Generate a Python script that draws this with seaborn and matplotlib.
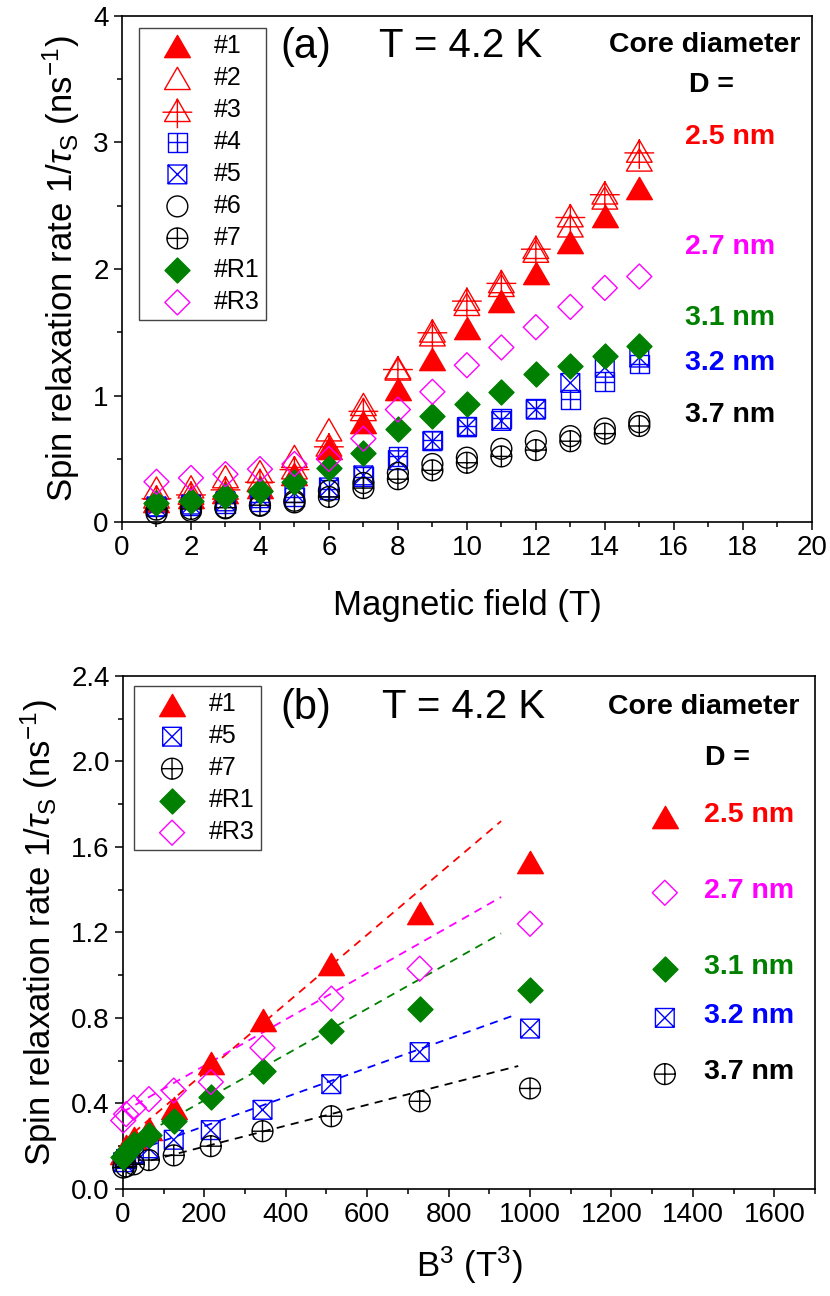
"""Spin relaxation rate vs magnetic field for CdSe-type nanocrystal samples (two panels)."""

import matplotlib
matplotlib.use("Agg")
import matplotlib.pyplot as plt
import seaborn as sns
from matplotlib.path import Path
from matplotlib.ticker import FormatStrFormatter, MultipleLocator

sns.set_theme(style="ticks")
plt.rcParams.update({
    "font.family": ["Liberation Sans", "DejaVu Sans"],
    "mathtext.fontset": "custom",
    "mathtext.rm": "Liberation Sans",
    "mathtext.it": "Liberation Sans:italic",
    "axes.edgecolor": "black",
    "axes.linewidth": 1.2,
    "xtick.color": "black",
    "ytick.color": "black",
    "text.color": "black",
    "axes.labelcolor": "black",
})

# ---- data ----
field_T = [1, 2, 3, 4, 5, 6, 7, 8, 9, 10, 11, 12, 13, 14, 15]
field_cubed = [1, 8, 27, 64, 125, 216, 343, 512, 729, 1000]

rate_1 = [0.17, 0.20, 0.24, 0.28, 0.38, 0.59, 0.79, 1.05, 1.29, 1.53, 1.75, 1.97, 2.21, 2.42, 2.64]
rate_2 = [0.27, 0.28, 0.36, 0.40, 0.52, 0.73, 0.93, 1.21, 1.48, 1.72, 1.87, 2.14, 2.34, 2.56, 2.86]
rate_3 = [0.20, 0.23, 0.27, 0.33, 0.43, 0.61, 0.89, 1.22, 1.51, 1.76, 1.90, 2.17, 2.42, 2.60, 2.93]
rate_4 = [0.12, 0.13, 0.15, 0.16, 0.20, 0.26, 0.36, 0.52, 0.65, 0.76, 0.82, 0.90, 0.97, 1.11, 1.25]
rate_5 = [0.125, 0.14, 0.165, 0.19, 0.23, 0.275, 0.37, 0.49, 0.64, 0.75, 0.80, 0.89, 1.10, 1.22, 1.30]
rate_6 = [0.07, 0.09, 0.11, 0.13, 0.17, 0.25, 0.31, 0.39, 0.46, 0.51, 0.58, 0.64, 0.68, 0.74, 0.79]
rate_7 = [0.10, 0.105, 0.115, 0.135, 0.157, 0.20, 0.27, 0.34, 0.41, 0.47, 0.52, 0.57, 0.64, 0.70, 0.76]
rate_R1 = [0.15, 0.17, 0.21, 0.25, 0.32, 0.43, 0.55, 0.74, 0.84, 0.93, 1.03, 1.17, 1.23, 1.31, 1.39]
rate_R3 = [0.32, 0.35, 0.38, 0.42, 0.46, 0.50, 0.66, 0.89, 1.03, 1.24, 1.38, 1.54, 1.70, 1.85, 1.94]

# linear fits in panel (b): rate at B^3 = 0 and at the end of the line
fit_samples = ["#1", "#R3", "#R1", "#5", "#7"]
fit_end_b3 = [929, 929, 929, 958, 971]
fit_start_rate = [0.22, 0.36, 0.20, 0.157, 0.10]
fit_end_rate = [1.72, 1.365, 1.195, 0.81, 0.575]

diameter_labels = ["2.5 nm", "2.7 nm", "3.1 nm", "3.2 nm", "3.7 nm"]
diameter_samples = ["#1", "#R3", "#R1", "#5", "#7"]

RATES = {"#1": rate_1, "#2": rate_2, "#3": rate_3, "#4": rate_4, "#5": rate_5,
         "#6": rate_6, "#7": rate_7, "#R1": rate_R1, "#R3": rate_R3}

# ---- marker shapes ----
RED, BLUE, BLACK, GREEN, MAGENTA = "#ff0000", "#0000ff", "#000000", "#008000", "#ff00ff"


def _line(p, q):
    return Path([p, q], [Path.MOVETO, Path.LINETO])


TRI = Path([(0, 0.866), (-1, -0.866), (1, -0.866), (0, 0.866)], closed=True)
TRI_CROSS = Path.make_compound_path(TRI, _line((-1.16, -0.14), (1.16, -0.14)),
                                    _line((0, 0.92), (0, -1.39)))
SQUARE = Path([(-1, -1), (1, -1), (1, 1), (-1, 1), (-1, -1)], closed=True)
SQUARE_PLUS = Path.make_compound_path(SQUARE, _line((-1, 0), (1, 0)), _line((0, -1), (0, 1)))
SQUARE_X = Path.make_compound_path(SQUARE, _line((-1, -1), (1, 1)), _line((-1, 1), (1, -1)))
CIRCLE = Path.unit_circle()
CIRCLE_PLUS = Path.make_compound_path(CIRCLE, _line((-1, 0), (1, 0)), _line((0, -1), (0, 1)))
DIAMOND = Path([(0, 1), (1, 0), (0, -1), (-1, 0), (0, 1)], closed=True)

# name -> (path, marker size in pt, colour, filled)
MARKERS = {
    "#1": (TRI, 18.5, RED, True),
    "#2": (TRI, 18.5, RED, False),
    "#3": (TRI_CROSS, 25.7, RED, False),
    "#4": (SQUARE_PLUS, 13.5, BLUE, False),
    "#5": (SQUARE_X, 13.5, BLUE, False),
    "#6": (CIRCLE, 15, BLACK, False),
    "#7": (CIRCLE_PLUS, 15, BLACK, False),
    "#R1": (DIAMOND, 18, GREEN, True),
    "#R3": (DIAMOND, 18, MAGENTA, False),
}

TICK_FS = 20
LABEL_FS = 25
LEGEND_FS = 18
NOTE_FS = 20.5
PANEL_FS = 30
TEMP_FS = 29
YLABEL = r"Spin relaxation rate 1/$\tau_\mathrm{S}$ (ns$^{-1}$)"


def draw_series(ax, x, y, name):
    path, ms, color, filled = MARKERS[name]
    sns.scatterplot(x=x, y=y, ax=ax, marker=path, s=ms ** 2,
                    facecolor=color if filled else "none", edgecolor=color,
                    linewidth=1.0, legend=False, zorder=3, clip_on=False)
    return ax.collections[-1]


def style_axes(ax):
    ax.tick_params(which="both", direction="out", top=False, right=False,
                   labelsize=TICK_FS, width=1.1)
    ax.tick_params(which="major", length=6)
    ax.tick_params(which="minor", length=3.5)
    for side in ax.spines.values():
        side.set_color("black")
        side.set_linewidth(1.2)


def add_legend(ax, handles, labels, anchor):
    leg = ax.legend(handles, labels, loc="upper left", bbox_to_anchor=anchor,
                    borderaxespad=0, fontsize=LEGEND_FS, frameon=True, fancybox=False,
                    edgecolor="#444444", framealpha=1, borderpad=0.25, labelspacing=0.32,
                    handlelength=2.55, handletextpad=0.2, scatterpoints=1)
    leg.get_frame().set_linewidth(1.0)


fig = plt.figure(figsize=(8.3, 12.96), dpi=100)
ax_a = fig.add_axes([0.147, 0.597, 0.831, 0.391])
ax_b = fig.add_axes([0.148, 0.0826, 0.834, 0.396])

# ---- panel (a) ----
names_a = ["#1", "#2", "#3", "#4", "#5", "#6", "#7", "#R1", "#R3"]
handles_a = [draw_series(ax_a, field_T, RATES[n], n) for n in names_a]
ax_a.set_xlim(0, 20)
ax_a.set_ylim(0, 4)
ax_a.xaxis.set_major_locator(MultipleLocator(2))
ax_a.xaxis.set_minor_locator(MultipleLocator(1))
ax_a.yaxis.set_major_locator(MultipleLocator(1))
ax_a.yaxis.set_minor_locator(MultipleLocator(0.5))
style_axes(ax_a)
ax_a.set_xlabel("Magnetic field (T)", fontsize=LABEL_FS, labelpad=20)
ax_a.set_ylabel(YLABEL, fontsize=LABEL_FS, labelpad=8)
add_legend(ax_a, handles_a, names_a, (0.025, 0.976))

ax_a.text(4.6, 3.75, "(a)", fontsize=PANEL_FS, va="center")
ax_a.text(7.45, 3.76, "T = 4.2 K", fontsize=TEMP_FS, va="center")
ax_a.text(16.9, 3.77, "Core diameter", fontsize=NOTE_FS, fontweight="bold", ha="center", va="center")
ax_a.text(17.1, 3.45, "D =", fontsize=NOTE_FS, fontweight="bold", ha="center", va="center")
note_y_a = [3.04, 2.17, 1.61, 1.26, 0.85]
for text, name, y in zip(diameter_labels, diameter_samples, note_y_a):
    ax_a.text(17.63, y, text, fontsize=NOTE_FS, fontweight="bold", ha="center",
              va="center", color=MARKERS[name][2])

# ---- panel (b) ----
for name, x_end, y0, y1 in zip(fit_samples, fit_end_b3, fit_start_rate, fit_end_rate):
    sns.lineplot(x=[0, x_end], y=[y0, y1], ax=ax_b, color=MARKERS[name][2],
                 linewidth=1.3, linestyle=(0, (4.5, 3.5)), zorder=2)

names_b = ["#1", "#5", "#7", "#R1", "#R3"]
n_b = len(field_cubed)
handles_b = [draw_series(ax_b, field_cubed, RATES[n][:n_b], n) for n in names_b]
ax_b.set_xlim(0, 1700)
ax_b.set_ylim(0, 2.4)
ax_b.xaxis.set_major_locator(MultipleLocator(200))
ax_b.xaxis.set_minor_locator(MultipleLocator(100))
ax_b.yaxis.set_major_locator(MultipleLocator(0.4))
ax_b.yaxis.set_minor_locator(MultipleLocator(0.2))
ax_b.yaxis.set_major_formatter(FormatStrFormatter("%.1f"))
style_axes(ax_b)
ax_b.set_xlabel(r"B$^3$ (T$^3$)", fontsize=LABEL_FS, labelpad=12)
ax_b.set_ylabel(YLABEL, fontsize=LABEL_FS, labelpad=8)
add_legend(ax_b, handles_b, names_b, (0.016, 0.98))

ax_b.text(386, 2.25, "(b)", fontsize=PANEL_FS, va="center")
ax_b.text(636, 2.255, "T = 4.2 K", fontsize=TEMP_FS, va="center")
ax_b.text(1427, 2.255, "Core diameter", fontsize=NOTE_FS, fontweight="bold", ha="center", va="center")
ax_b.text(1484, 2.015, "D =", fontsize=NOTE_FS, fontweight="bold", ha="center", va="center")
key_y_b = [1.74, 1.385, 1.03, 0.80, 0.537]
for text, name, y in zip(diameter_labels, diameter_samples, key_y_b):
    draw_series(ax_b, [1331], [y], name)
    ax_b.text(1427, y + 0.008, text, fontsize=NOTE_FS, fontweight="bold", ha="left",
              va="center", color=MARKERS[name][2])

fig.savefig("out.png", dpi=100)
